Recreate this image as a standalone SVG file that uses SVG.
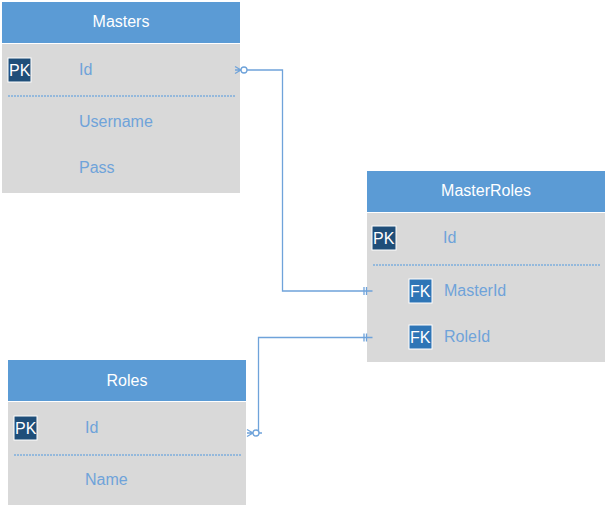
<svg xmlns="http://www.w3.org/2000/svg" width="607" height="508" viewBox="0 0 607 508">
<style>
.hdr{fill:#5B9BD5}
.body{fill:#D9D9D9}
.ht{font-family:"Liberation Sans",Arial,sans-serif;font-size:16px;fill:#FFFFFF;text-anchor:middle}
.ft{font-family:"Liberation Sans",Arial,sans-serif;font-size:16px;fill:#6FA3DA}
.pk{fill:#1F4E79;stroke:#FFFFFF;stroke-width:1}
.fk{fill:#2E75B6;stroke:#FFFFFF;stroke-width:1}
.kt{font-family:"Liberation Sans",Arial,sans-serif;font-size:16px;fill:#FFFFFF}
.sep{stroke:#7EAEDD;stroke-width:1.5;stroke-dasharray:2 1}
.conn{fill:none;stroke:#6FA3DA;stroke-width:1.3}
</style>
<g id="Masters">
<rect class="hdr" x="2" y="2" width="238" height="41"/>
<rect class="body" x="2" y="44" width="238" height="149"/>
<text class="ht" x="121" y="27">Masters</text>
<rect class="pk" x="8" y="58" width="23" height="24"/>
<text class="kt" x="9" y="76">PK</text>
<text class="ft" x="79" y="75">Id</text>
<line class="sep" x1="8" y1="96" x2="235" y2="96"/>
<text class="ft" x="79" y="127">Username</text>
<text class="ft" x="79" y="173">Pass</text>
</g>
<g id="MasterRoles">
<rect class="hdr" x="367" y="171" width="238" height="41"/>
<rect class="body" x="367" y="213" width="238" height="149"/>
<text class="ht" x="486" y="196">MasterRoles</text>
<rect class="pk" x="372" y="226" width="24" height="24"/>
<text class="kt" x="373" y="244">PK</text>
<text class="ft" x="443" y="243">Id</text>
<line class="sep" x1="373" y1="265" x2="600" y2="265"/>
<rect class="fk" x="409" y="279" width="23" height="24"/>
<text class="kt" x="410" y="297">FK</text>
<text class="ft" x="444" y="296">MasterId</text>
<rect class="fk" x="409" y="325" width="23" height="24"/>
<text class="kt" x="410" y="343">FK</text>
<text class="ft" x="444" y="342">RoleId</text>
</g>
<g id="Roles">
<rect class="hdr" x="8" y="360" width="238" height="41"/>
<rect class="body" x="8" y="402" width="238" height="103"/>
<text class="ht" x="127" y="386">Roles</text>
<rect class="pk" x="14" y="416" width="23" height="24"/>
<text class="kt" x="15" y="434">PK</text>
<text class="ft" x="85" y="433">Id</text>
<line class="sep" x1="14" y1="455" x2="241" y2="455"/>
<text class="ft" x="85" y="485">Name</text>
</g>
<g id="connectors">
<path class="conn" d="M247 70 H282.5 V291 H372.5"/>
<path class="conn" d="M235 66.5 L241 70 L235 73.5 M235 70 H241"/>
<circle cx="244" cy="70" r="3" fill="#FFFFFF" stroke="#6FA3DA" stroke-width="1.3"/>
<path class="conn" d="M364 287 V295 M366.5 287 V295"/>
<path class="conn" d="M262 433 H258.5 V337.5 H372.5"/>
<path class="conn" d="M247 429.5 L253 433 L247 436.5 M247 433 H253"/>
<circle cx="256" cy="433" r="3" fill="#FFFFFF" stroke="#6FA3DA" stroke-width="1.3"/>
<path class="conn" d="M364 333.5 V341.5 M366.5 333.5 V341.5"/>
</g>
</svg>
